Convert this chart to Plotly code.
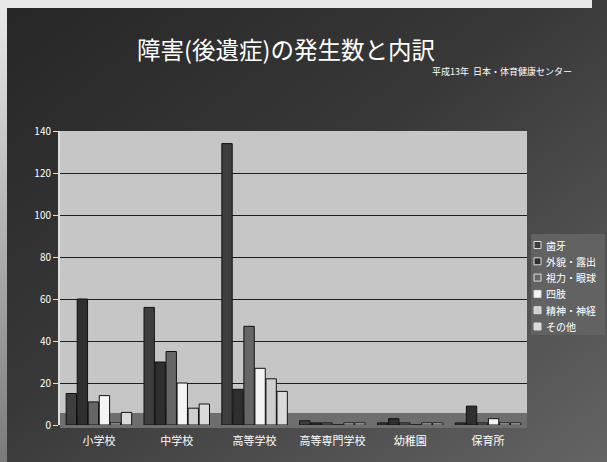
import base64
import plotly.graph_objects as go

# Schools and injury categories
schools = ["小学校", "中学校", "高等学校", "高等専門学校", "幼稚園", "保育所"]
categories = ["歯牙", "外貌・露出", "視力・眼球", "四肢", "精神・神経", "その他"]

# Counts of after-effects by category, per school type
teeth = [15, 56, 134, 2, 1, 1]
appearance = [60, 30, 17, 1, 3, 9]
eyesight = [11, 35, 47, 1, 1, 1]
limbs = [14, 20, 27, 0, 0, 3]
nerves = [1, 8, 22, 1, 1, 1]
others = [6, 10, 16, 1, 1, 1]

series = [teeth, appearance, eyesight, limbs, nerves, others]
colors = ["#3e3e3e", "#2f2f2f", "#666666", "#f4f4f4", "#cfcfcf", "#dadada"]

W, H = 607, 462
ML, MR, MT, MB = 60, 80, 131, 37
PW, PH = W - ML - MR, H - MT - MB


def px(x):
    return (x - ML) / PW


def py(y):
    return 1 - (y - MT) / PH


fig = go.Figure()
for name, vals, col in zip(categories, series, colors):
    fig.add_trace(go.Bar(
        x=schools, y=vals, name=name,
        marker=dict(color=col, line=dict(color="#111111", width=1)),
    ))

# dark diagonal gradient behind the whole page, with a pale edge top and left
svg = f"""<svg xmlns='http://www.w3.org/2000/svg' width='{W}' height='{H}'>
<defs><linearGradient id='g' x1='0' y1='0' x2='1' y2='1'>
<stop offset='0' stop-color='#262626'/><stop offset='0.45' stop-color='#383838'/>
<stop offset='1' stop-color='#646464'/></linearGradient>
<linearGradient id='e' x1='0' y1='0' x2='0' y2='1'>
<stop offset='0' stop-color='#e8e8e8'/><stop offset='1' stop-color='#7a7a7a'/></linearGradient></defs>
<rect width='{W}' height='{H}' fill='url(#g)'/>
<rect x='0' y='0' width='592' height='8' fill='#e8e8e8'/>
<rect x='0' y='8' width='7' height='{H - 8}' fill='url(#e)'/></svg>"""
src = "data:image/svg+xml;base64," + base64.b64encode(svg.encode()).decode()

shapes = [
    # light back wall of the chart
    dict(type="rect", xref="paper", yref="paper", x0=0, x1=1, y0=0, y1=1,
         fillcolor="#c6c6c6", line=dict(width=0), layer="below"),
    # floor strip under the bars
    dict(type="rect", xref="paper", yref="paper", x0=0, x1=1,
         y0=py(428), y1=py(413), fillcolor="#6e6e6e", line=dict(width=0),
         layer="below"),
    # legend box
    dict(type="rect", xref="paper", yref="paper", x0=px(531), x1=px(605),
         y0=py(335), y1=py(234), fillcolor="#626262", line=dict(width=0),
         layer="below"),
]
annotations = [
    dict(text="障害(後遺症)の発生数と内訳", xref="paper", yref="paper",
         x=px(286), y=py(49), xanchor="center", yanchor="middle",
         showarrow=False, font=dict(size=23.5, color="#ffffff")),
    dict(text="平成13年  日本・体育健康センター", xref="paper", yref="paper",
         x=px(574), y=py(72), xanchor="right", yanchor="middle",
         showarrow=False, font=dict(size=9, color="#ffffff")),
]
# legend entries: small swatch plus label
for i, (name, col) in enumerate(zip(categories, colors)):
    yc = 245 + i * 16.3
    shapes.append(dict(type="rect", xref="paper", yref="paper",
                       x0=px(534), x1=px(541), y0=py(yc + 3.5), y1=py(yc - 3.5),
                       fillcolor=col, line=dict(color="#dddddd", width=1)))
    annotations.append(dict(text=name, xref="paper", yref="paper",
                            x=px(544), y=py(yc), xanchor="left", yanchor="middle",
                            showarrow=False, font=dict(size=10, color="#ffffff")))

fig.update_layout(
    width=W, height=H,
    margin=dict(l=ML, r=MR, t=MT, b=MB),
    paper_bgcolor="#3a3a3a",
    plot_bgcolor="#c6c6c6",
    font=dict(family="Noto Sans CJK JP", color="#ffffff", size=11),
    barmode="group", bargap=0.15, bargroupgap=0.06,
    showlegend=False,
    images=[dict(source=src, xref="paper", yref="paper",
                 x=-ML / PW, y=1 + MT / PH, sizex=W / PW, sizey=H / PH,
                 xanchor="left", yanchor="top", sizing="stretch", layer="below")],
    annotations=annotations,
    shapes=shapes,
)
fig.update_xaxes(showgrid=False, tickfont=dict(size=11, color="#ffffff"),
                 showline=False, ticks="outside", ticklen=6,
                 tickcolor="rgba(0,0,0,0)")
fig.update_yaxes(range=[0, 140], dtick=20, gridcolor="#1e1e1e", gridwidth=1,
                 showline=True, linecolor="#dddddd", linewidth=2,
                 ticks="outside", ticklen=5, tickcolor="#dddddd",
                 tickfont=dict(size=10, color="#ffffff"), zeroline=False)

fig.write_html("out.html")
